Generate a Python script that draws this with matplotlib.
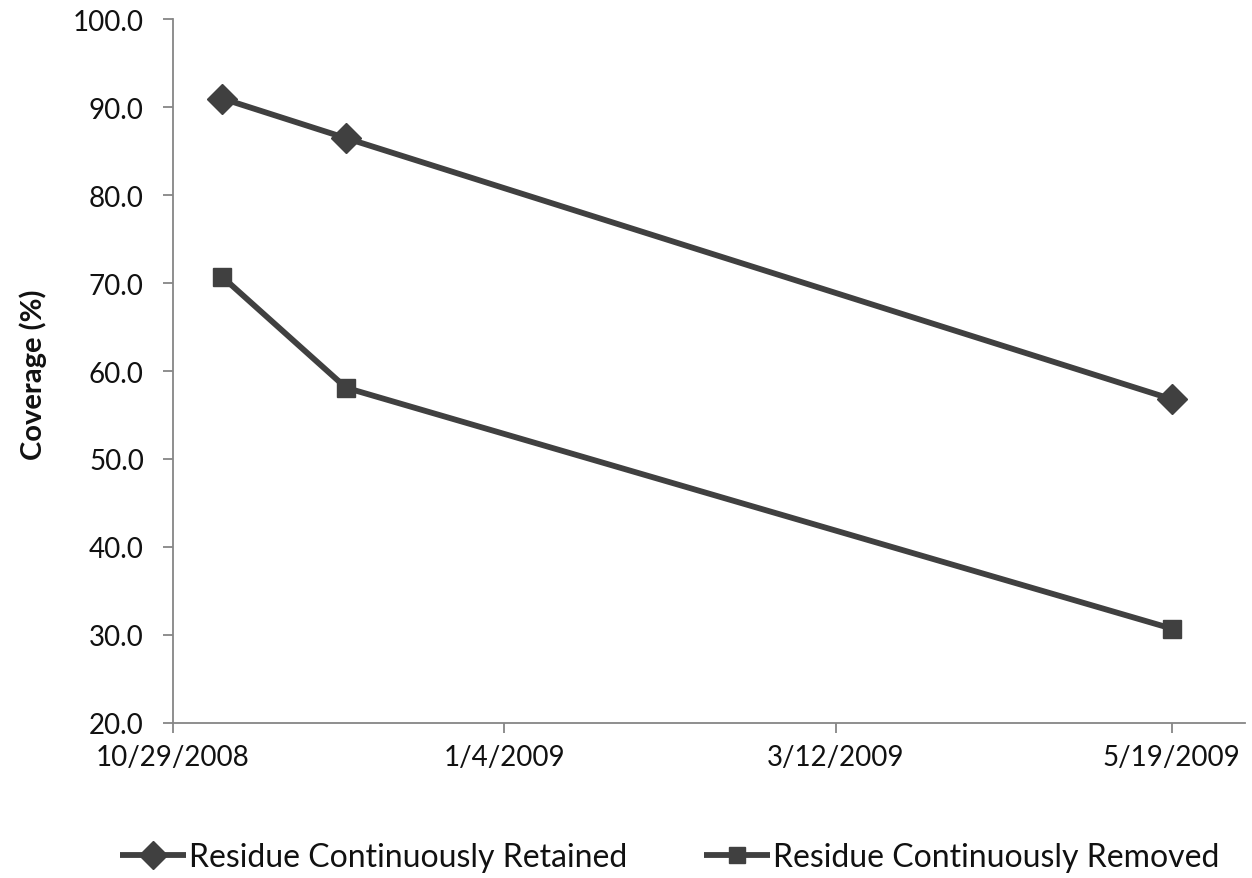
import matplotlib
matplotlib.use("Agg")
import matplotlib.pyplot as plt
from datetime import datetime, timedelta

# Data
dates = ["2008-11-08", "2008-12-03", "2009-05-19"]
retained = [91.0, 86.5, 56.8]
removed = [70.7, 58.1, 30.7]
x_ticks = ["2008-10-29", "2009-01-04", "2009-03-12", "2009-05-19"]
y_ticks = [20, 30, 40, 50, 60, 70, 80, 90, 100]

plt.rcParams['font.family'] = ['Lato', 'DejaVu Sans']

d = [datetime.strptime(s, "%Y-%m-%d") for s in dates]
xt = [datetime.strptime(s, "%Y-%m-%d") for s in x_ticks]

fig = plt.figure(figsize=(12.52, 8.79), dpi=100)
ax = fig.add_axes([0.1382, 0.1767, 0.8562, 0.80])

col = "#404040"
ax.plot(d, retained, color=col, lw=4.2, marker="D", ms=15, label="Residue Continuously Retained", solid_capstyle="butt")
ax.plot(d, removed, color=col, lw=4.2, marker="s", ms=12.5, label="Residue Continuously Removed", solid_capstyle="butt")

ax.set_ylim(20, 100)
ax.set_yticks(y_ticks)
ax.set_yticklabels([f"{v:.1f}" for v in y_ticks])
ax.set_xlim(xt[0], xt[0] + timedelta(days=216.8))
ax.set_xticks(xt)
ax.set_xticklabels([f"{t.month}/{t.day}/{t.year}" for t in xt])

for s in ["top", "right"]:
    ax.spines[s].set_visible(False)
for s in ["left", "bottom"]:
    ax.spines[s].set_color("#868686")
    ax.spines[s].set_linewidth(1.3)
ax.tick_params(axis="both", colors="#868686", length=7, width=1.3, labelcolor="#111111", labelsize=20)
ax.tick_params(axis="y", pad=14)
ax.tick_params(axis="x", pad=8)

fig.text(33 / 1252, 1 - 375 / 879, "Coverage (%)", rotation=90, ha="center", va="center",
         fontsize=21, fontweight="bold", color="#111111")

leg = fig.legend(loc="center", bbox_to_anchor=(0.535, 0.024), ncol=2, frameon=False,
                 fontsize=23, handlelength=2.05, columnspacing=2.4, handletextpad=0.1,
                 markerscale=0.95)
for t in leg.get_texts():
    t.set_color("#111111")

fig.savefig("out.png", dpi=100)
